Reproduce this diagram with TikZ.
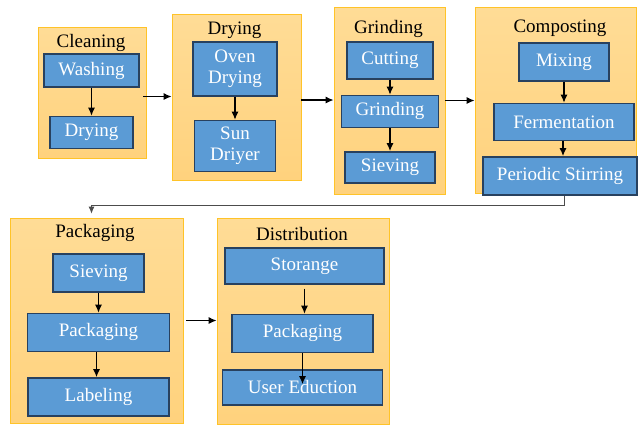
\documentclass[tikz,border=0pt]{standalone}
\usepackage{fontspec}
\setmainfont{Liberation Serif}
\newfontfamily\diagfont{Liberation Serif}
\usetikzlibrary{shapes,arrows,arrows.meta,calc,positioning}
\definecolor{stagefill}{RGB}{255,220,150}
\definecolor{stagefilldark}{RGB}{255,210,125}
\definecolor{stageline}{RGB}{255,195,40}
\definecolor{stepfill}{RGB}{91,155,213}
\definecolor{stepline}{RGB}{40,65,95}
\tikzstyle{stage}=[draw=stageline, line width=0.8pt, top color=stagefill, bottom color=stagefilldark, inner sep=0pt]
\tikzstyle{stepbox}=[draw=stepline, line width=1.4pt, fill=stepfill, text=white, inner sep=0pt, align=center, font=\diagfont\fontsize{19}{20.5}\selectfont]
\tikzstyle{title}=[font=\diagfont\fontsize{19}{20.5}\selectfont]
\tikzstyle{arrow}=[draw, -{Latex[length=8pt,width=7pt]}, line width=1.2pt]
\tikzstyle{link}=[draw, -{Latex[length=7pt,width=6pt]}, line width=0.8pt, draw=black!70]

\begin{document}
\begin{tikzpicture}[x=1pt, y=-1pt]
\useasboundingbox (0,0) rectangle (638,424);

% stages
\node[stage, minimum width=108pt, minimum height=131pt] (cleaning) at (92,92.5) {};
\node[stage, minimum width=129pt, minimum height=166pt] (drying) at (236.5,97) {};
\node[stage, minimum width=111pt, minimum height=187pt] (grinding) at (389.5,100.5) {};
\node[stage, minimum width=161pt, minimum height=186pt] (composting) at (555.5,100) {};
\node[stage, minimum width=173pt, minimum height=205pt] (packaging) at (96.5,320.5) {};
\node[stage, minimum width=172pt, minimum height=206pt] (distribution) at (303,321) {};

\node[title] (cleaningtitle) at (91,43) {Cleaning};
\node[title] (dryingtitle) at (234.5,30) {Drying};
\node[title] (grindingtitle) at (388.5,29) {Grinding};
\node[title] (compostingtitle) at (560,28) {Composting};
\node[title] (packagingtitle) at (95,233) {Packaging};
\node[title] (distributiontitle) at (302,234) {Distribution};

% cleaning
\node[stepbox, minimum width=95pt, minimum height=33pt] (washing) at (91.5,70.5) {Washing};
\node[stepbox, minimum width=83pt, minimum height=32pt] (dry) [below=28pt of washing] {Drying};

% drying
\node[stepbox, minimum width=84pt, minimum height=54pt] (oven) at (235,69) {Oven\\Drying};
\node[stepbox, minimum width=81pt, minimum height=51pt] (sun) [below=23pt of oven] {Sun\\Driyer};

% grinding
\node[stepbox, minimum width=86pt, minimum height=37pt] (cutting) at (390,60.5) {Cutting};
\node[stepbox, minimum width=97pt, minimum height=32pt] (grind) [below=15pt of cutting] {Grinding};
\node[stepbox, minimum width=90pt, minimum height=31pt] (sieving) [below=23pt of grind] {Sieving};

% composting
\node[stepbox, minimum width=90pt, minimum height=38pt] (mixing) at (564,62) {Mixing};
\node[stepbox, minimum width=140pt, minimum height=37pt] (ferment) [below=21pt of mixing] {Fermentation};
\node[stepbox, minimum width=154pt, minimum height=38pt] (stirring) [below=15pt of ferment, xshift=-4pt] {Periodic Stirring};

% packaging
\node[stepbox, minimum width=91pt, minimum height=38pt] (sieve) at (98.5,273) {Sieving};
\node[stepbox, minimum width=142pt, minimum height=38pt] (pack) [below=20pt of sieve] {Packaging};
\node[stepbox, minimum width=141pt, minimum height=38pt] (label) [below=25pt of pack] {Labeling};

% distribution
\node[stepbox, minimum width=159pt, minimum height=36pt] (storage) at (304.5,266) {Storange};
\node[stepbox, minimum width=141pt, minimum height=38pt] (packtwo) [below=29pt of storage, xshift=-2pt] {Packaging};
\node[stepbox, minimum width=160pt, minimum height=35pt] (education) [below=16pt of packtwo] {User Eduction};
\coordinate (eduend) at ([yshift=-31pt]packtwo.south);

\draw [arrow] (washing.south) -- (washing.south |- dry.north);
\draw [arrow] (oven.south) -- (oven.south |- sun.north);
\draw [arrow] (cutting.south) -- (cutting.south |- grind.north);
\draw [arrow] (grind.south) -- (grind.south |- sieving.north);
\draw [arrow] (mixing.south) -- (mixing.south |- ferment.north);
\draw [arrow] ([xshift=-1pt]ferment.south) -- ([xshift=-1pt]ferment.south |- stirring.north);
\draw [arrow] (sieve.south) -- (sieve.south |- pack.north);
\draw [arrow] ([xshift=-2pt]pack.south) -- ([xshift=-2pt]pack.south |- label.north);
\draw [arrow] ([yshift=-4pt]storage.south) -- (storage.south |- packtwo.north);
\draw [arrow] (packtwo.south) -- (eduend);

\draw [arrow] ([xshift=-3pt,yshift=-4pt]cleaning.east) -- ([yshift=-4pt]cleaning.east -| drying.west);
\draw [arrow] ([yshift=-3pt]drying.east) -- ([yshift=-3pt]drying.east -| grinding.west);
\draw [arrow] (grinding.east) -- (grinding.east -| composting.west);
\draw [arrow] ([xshift=3pt]packaging.east) -- (packaging.east -| distribution.west);
\draw [link] ([xshift=4pt]stirring.south) -- ++(0,-10pt) -| ([xshift=-5pt,yshift=4pt]packaging.north);

\end{tikzpicture}
\end{document}
